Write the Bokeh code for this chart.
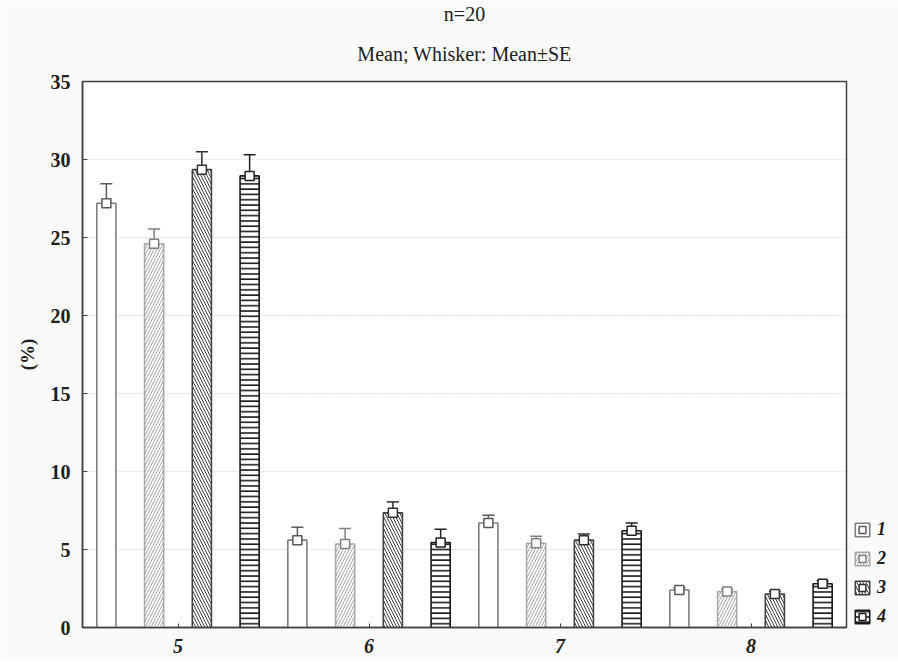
from bokeh.plotting import figure
from bokeh.models import (ColumnDataSource, FactorRange, Whisker, TeeHead, Legend, LegendItem,
                          FixedTicker, Title)
from bokeh.transform import dodge
from bokeh.embed import file_html
from bokeh.resources import INLINE

categories = ["5", "6", "7", "8"]
series_names = ["1", "2", "3", "4"]
mean_1 = [27.2, 5.6, 6.7, 2.4]
se_1 = [1.25, 0.83, 0.5, 0.15]
mean_2 = [24.6, 5.35, 5.4, 2.3]
se_2 = [0.95, 1.0, 0.45, 0.15]
mean_3 = [29.35, 7.35, 5.6, 2.15]
se_3 = [1.15, 0.7, 0.4, 0.15]
mean_4 = [28.95, 5.45, 6.2, 2.8]
se_4 = [1.35, 0.85, 0.5, 0.2]
y_ticks = [0, 5, 10, 15, 20, 25, 30, 35]

means = [mean_1, mean_2, mean_3, mean_4]
ses = [se_1, se_2, se_3, se_4]

SERIF = "Liberation Serif"

p = figure(x_range=FactorRange(factors=categories, range_padding=0), y_range=(0, 35),
           frame_width=764, frame_height=546, min_border_left=82, min_border_top=81,
           min_border_bottom=33, min_border_right=50,
           output_backend="svg", toolbar_location=None)
p.x_range.range_padding = 0
p.background_fill_color = "white"
p.border_fill_color = "#fafafa"
p.outline_line_color = "#404040"
p.outline_line_width = 1.5

p.title = None
t2 = Title(text="Mean; Whisker: Mean\u00b1SE", align="center", text_font=SERIF,
           text_font_size="20px", text_font_style="normal", text_color="#202020", standoff=33)
t1 = Title(text="n=20", align="center", text_font=SERIF,
           text_font_size="20px", text_font_style="normal", text_color="#202020", standoff=0)
p.add_layout(t2, "above")
p.add_layout(t1, "above")

offsets = [-0.375, -0.125, 0.125, 0.375]
line_colors = ["#808080", "#a8a8a8", "#404040", "#1a1a1a"]
whisk_colors = ["#5a5a5a", "#808080", "#303030", "#202020"]
hatches = [None, "right_diagonal_line", "left_diagonal_line", "horizontal_line"]
hatch_scales = [6, 6, 6, 5.3]
hatch_weights = [1, 1, 1, 1.6]

items = []
for i in range(4):
    m = means[i]
    s = ses[i]
    src = ColumnDataSource(dict(cat=categories, mean=m,
                                upper=[a + b for a, b in zip(m, s)],
                                lower=[a - b for a, b in zip(m, s)]))
    xs = dodge("cat", offsets[i], range=p.x_range)
    kw = dict(x=xs, top="mean", width=0.1, bottom=0, source=src,
              fill_color="white", line_color=line_colors[i], line_width=1.6)
    if hatches[i]:
        kw.update(hatch_pattern=hatches[i], hatch_color=line_colors[i],
                  hatch_scale=hatch_scales[i], hatch_weight=hatch_weights[i])
    vb = p.vbar(**kw)
    w = Whisker(base=dodge("cat", offsets[i], range=p.x_range), upper="upper", lower="lower",
                source=src, line_color=whisk_colors[i], line_width=1.5,
                upper_head=TeeHead(size=12, line_color=whisk_colors[i], line_width=1.5),
                lower_head=TeeHead(size=12, line_color=whisk_colors[i], line_width=1.5))
    p.add_layout(w)
    sc = p.scatter(x=dodge("cat", offsets[i], range=p.x_range), y="mean", source=src,
                   marker="square", size=9, fill_color="white",
                   line_color=whisk_colors[i], line_width=1.5)
    items.append(LegendItem(label=series_names[i], renderers=[vb, sc]))

p.xgrid.grid_line_color = None
p.ygrid.grid_line_color = "#c4c4c4"
p.ygrid.grid_line_dash = "1 2"
p.ygrid.grid_line_width = 1

p.yaxis.ticker = FixedTicker(ticks=y_ticks)
p.yaxis.minor_tick_line_color = None
p.yaxis.major_tick_in = 5
p.yaxis.major_tick_out = 0
p.yaxis.axis_line_color = "#404040"
p.yaxis.axis_line_width = 1.5
p.yaxis.major_tick_line_color = "#404040"
p.yaxis.major_label_text_font = SERIF
p.yaxis.major_label_text_font_size = "20px"
p.yaxis.major_label_text_font_style = "bold"
p.yaxis.major_label_text_color = "#202020"
p.yaxis.major_label_standoff = 12
p.yaxis.axis_label = "(%)"
p.yaxis.axis_label_text_font = SERIF
p.yaxis.axis_label_text_font_size = "19px"
p.yaxis.axis_label_text_font_style = "bold"
p.yaxis.axis_label_text_color = "#202020"
p.yaxis.axis_label_standoff = 10

p.xaxis.major_tick_in = 4
p.xaxis.major_tick_out = 0
p.xaxis.axis_line_color = "#404040"
p.xaxis.axis_line_width = 1.5
p.xaxis.major_tick_line_color = "#404040"
p.xaxis.major_label_text_font = SERIF
p.xaxis.major_label_text_font_size = "20px"
p.xaxis.major_label_text_font_style = "bold italic"
p.xaxis.major_label_text_color = "#202020"
p.xaxis.major_label_standoff = 11

legend = Legend(items=items, location=(7, 0), orientation="vertical",
                glyph_width=18, glyph_height=17, spacing=8, label_standoff=6,
                label_text_font=SERIF, label_text_font_size="18px",
                label_text_font_style="bold italic", label_text_color="#202020",
                label_height=17, padding=0, margin=0,
                border_line_color=None, background_fill_alpha=0)
p.add_layout(legend, "right")

open("out.html", "w").write(file_html(p, INLINE))
